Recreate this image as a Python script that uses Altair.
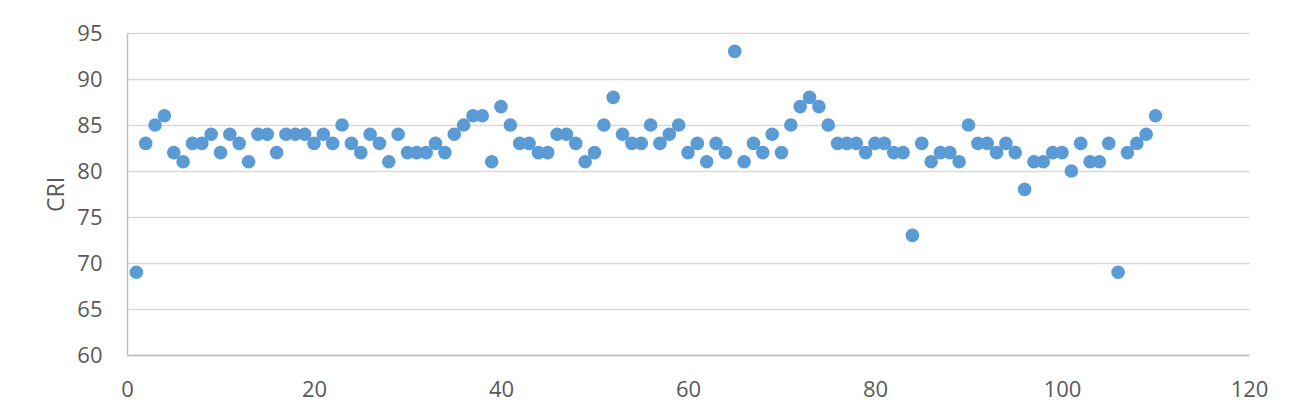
import altair as alt
import pandas as pd

sample = list(range(1, 111))
cri = [69, 83, 85, 86, 82, 81, 83, 83, 84, 82,
       84, 83, 81, 84, 84, 82, 84, 84, 84, 83,
       84, 83, 85, 83, 82, 84, 83, 81, 84, 82,
       82, 82, 83, 82, 84, 85, 86, 86, 81, 87,
       85, 83, 83, 82, 82, 84, 84, 83, 81, 82,
       85, 88, 84, 83, 83, 85, 83, 84, 85, 82,
       83, 81, 83, 82, 93, 81, 83, 82, 84, 82,
       85, 87, 88, 87, 85, 83, 83, 83, 82, 83,
       83, 82, 82, 73, 83, 81, 82, 82, 81, 85,
       83, 83, 82, 83, 82, 78, 81, 81, 82, 82,
       80, 83, 81, 81, 83, 69, 82, 83, 84, 86]

x_ticks = [0, 20, 40, 60, 80, 100, 120]
y_ticks = [60, 65, 70, 75, 80, 85, 90, 95]

df = pd.DataFrame({"sample": sample, "CRI": cri})

FONT = "Open Sans"
LABEL = "#595959"

chart = alt.Chart(df).mark_circle(size=185, color="#5B9BD5", opacity=1).encode(
    x=alt.X("sample:Q",
            scale=alt.Scale(domain=[0, 120], nice=False, zero=False),
            axis=alt.Axis(values=x_ticks, title=None, grid=False, ticks=False,
                          domainColor="#bfbfbf", domainWidth=1.5,
                          labelFontSize=22, labelColor=LABEL, labelFont=FONT,
                          labelPadding=24, labelFlush=False)),
    y=alt.Y("CRI:Q",
            scale=alt.Scale(domain=[60, 95], nice=False, zero=False),
            axis=alt.Axis(values=y_ticks, title="CRI", grid=True, ticks=False,
                          gridColor="#d9d9d9", gridWidth=1.5,
                          domainColor="#bfbfbf", domainWidth=1.5,
                          labelFontSize=22, labelColor=LABEL, labelFont=FONT,
                          labelPadding=25, labelFlush=False,
                          titleFont=FONT, titleFontSize=23, titleFontWeight="normal",
                          titleColor=LABEL, titleX=-64, titleY=161,
                          titleBaseline="alphabetic", titleAngle=270)),
).properties(
    width=1122,
    height=322,
    autosize=alt.AutoSizeParams(type="none"),
    padding={"left": 119, "top": 25, "right": 30, "bottom": 50},
    background="white",
).configure_view(stroke=None)

chart.save("out.html", embed_options={"renderer": "svg", "actions": False})
